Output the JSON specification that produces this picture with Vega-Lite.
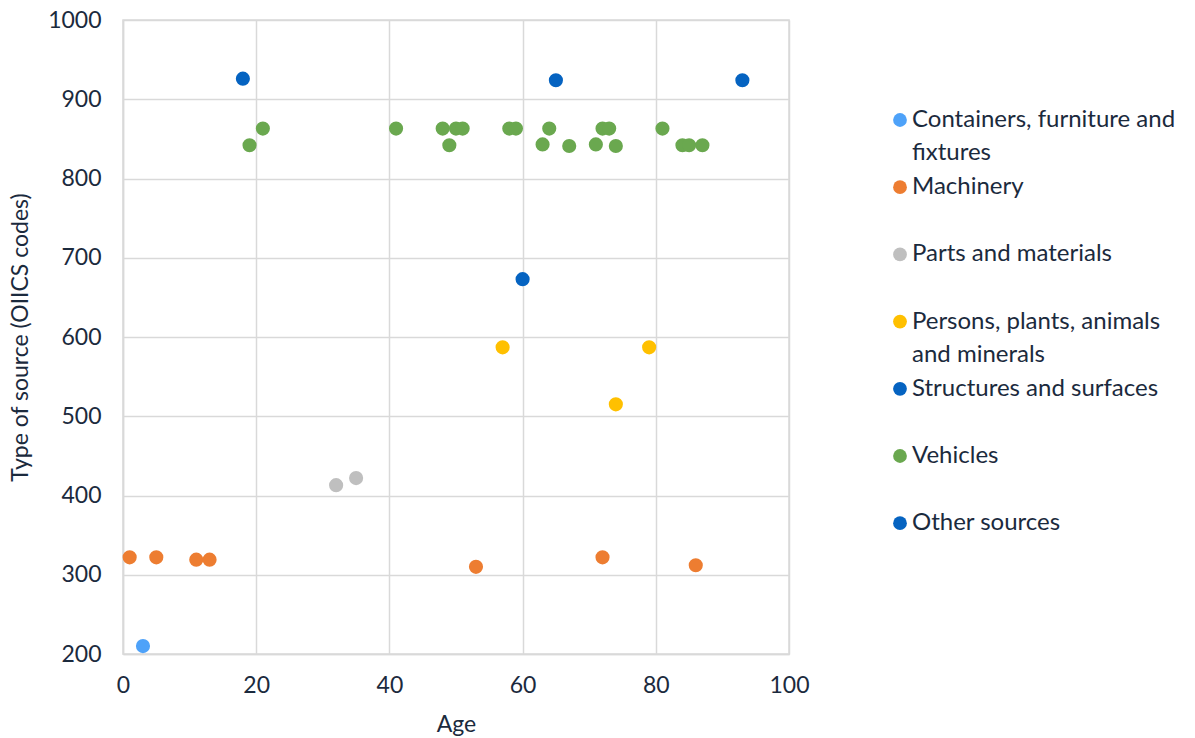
{
  "$schema": "https://vega.github.io/schema/vega-lite/v6.json",
  "width": 666,
  "height": 634,
  "autosize": {"type": "none"},
  "padding": {"left": 123, "top": 20, "right": 406, "bottom": 84},
  "background": "#ffffff",
  "config": {
    "font": "Lato",
    "view": {"stroke": "#D9D9D9", "strokeWidth": 1.5},
    "style": {"guide-label": {"lineHeight": 33.4}},
    "axis": {
      "labelFont": "Lato",
      "labelFontSize": 23,
      "labelColor": "#1B2A3D",
      "titleFont": "Lato",
      "titleFontSize": 23,
      "titleFontWeight": "normal",
      "titleColor": "#1B2A3D",
      "gridColor": "#D9D9D9",
      "gridWidth": 1.5,
      "domainColor": "#D9D9D9",
      "domainWidth": 1.5,
      "ticks": false
    },
    "legend": {
      "labelFont": "Lato",
      "labelFontSize": 24,
      "labelColor": "#1B2A3D",
      "labelLimit": 0,
      "labelOffset": 0,
      "symbolType": "circle",
      "symbolSize": 190,
      "symbolStrokeWidth": 0,
      "rowPadding": 9.2,
      "padding": 0
    }
  },
  "data": {
    "values": [
      {"age": 3, "code": 210, "source": "Containers, furniture and fixtures"},
      {"age": 1, "code": 322, "source": "Machinery"},
      {"age": 5, "code": 322, "source": "Machinery"},
      {"age": 11, "code": 319, "source": "Machinery"},
      {"age": 13, "code": 319, "source": "Machinery"},
      {"age": 53, "code": 310, "source": "Machinery"},
      {"age": 72, "code": 322, "source": "Machinery"},
      {"age": 86, "code": 312, "source": "Machinery"},
      {"age": 32, "code": 413, "source": "Parts and materials"},
      {"age": 35, "code": 422, "source": "Parts and materials"},
      {"age": 57, "code": 587, "source": "Persons, plants, animals and minerals"},
      {"age": 74, "code": 515, "source": "Persons, plants, animals and minerals"},
      {"age": 79, "code": 587, "source": "Persons, plants, animals and minerals"},
      {"age": 60, "code": 673, "source": "Structures and surfaces"},
      {"age": 19, "code": 842, "source": "Vehicles"},
      {"age": 21, "code": 863, "source": "Vehicles"},
      {"age": 41, "code": 863, "source": "Vehicles"},
      {"age": 48, "code": 863, "source": "Vehicles"},
      {"age": 49, "code": 842, "source": "Vehicles"},
      {"age": 50, "code": 863, "source": "Vehicles"},
      {"age": 51, "code": 863, "source": "Vehicles"},
      {"age": 58, "code": 863, "source": "Vehicles"},
      {"age": 59, "code": 863, "source": "Vehicles"},
      {"age": 63, "code": 843, "source": "Vehicles"},
      {"age": 64, "code": 863, "source": "Vehicles"},
      {"age": 67, "code": 841, "source": "Vehicles"},
      {"age": 71, "code": 843, "source": "Vehicles"},
      {"age": 72, "code": 863, "source": "Vehicles"},
      {"age": 73, "code": 863, "source": "Vehicles"},
      {"age": 74, "code": 841, "source": "Vehicles"},
      {"age": 81, "code": 863, "source": "Vehicles"},
      {"age": 84, "code": 842, "source": "Vehicles"},
      {"age": 85, "code": 842, "source": "Vehicles"},
      {"age": 87, "code": 842, "source": "Vehicles"},
      {"age": 18, "code": 926, "source": "Other sources"},
      {"age": 65, "code": 924, "source": "Other sources"},
      {"age": 93, "code": 924, "source": "Other sources"}
    ]
  },
  "mark": {"type": "circle", "size": 200, "opacity": 1},
  "encoding": {
    "x": {
      "field": "age",
      "type": "quantitative",
      "title": "Age",
      "scale": {"domain": [0, 100], "nice": false, "zero": false},
      "axis": {"values": [0, 20, 40, 60, 80, 100], "labelPadding": 20, "titlePadding": 16, "labelFlush": false}
    },
    "y": {
      "field": "code",
      "type": "quantitative",
      "title": "Type of source (OIICS codes)",
      "scale": {"domain": [200, 1000], "nice": false, "zero": false},
      "axis": {"values": [200, 300, 400, 500, 600, 700, 800, 900, 1000], "format": "d", "labelPadding": 22, "titlePadding": 15, "labelFlush": false}
    },
    "color": {
      "field": "source",
      "type": "nominal",
      "title": null,
      "sort": null,
      "scale": {
        "domain": [
          "Containers, furniture and fixtures",
          "Machinery",
          "Parts and materials",
          "Persons, plants, animals and minerals",
          "Structures and surfaces",
          "Vehicles",
          "Other sources"
        ],
        "range": ["#4EA2F9", "#ED7D31", "#BFBFBF", "#FFC000", "#0563C1", "#6AA84F", "#0563C1"]
      },
      "legend": {
        "orient": "none",
        "legendX": 765,
        "legendY": 88,
        "labelExpr": "datum.label == 'Containers, furniture and fixtures' ? ['Containers, furniture and', 'fixtures'] : datum.label == 'Persons, plants, animals and minerals' ? ['Persons, plants, animals', 'and minerals'] : [datum.label, '']",
        "encode": {
          "labels": {"enter": {"lineHeight": {"value": 33.4}}, "update": {"lineHeight": {"value": 33.4}}}
        }
      }
    }
  }
}
